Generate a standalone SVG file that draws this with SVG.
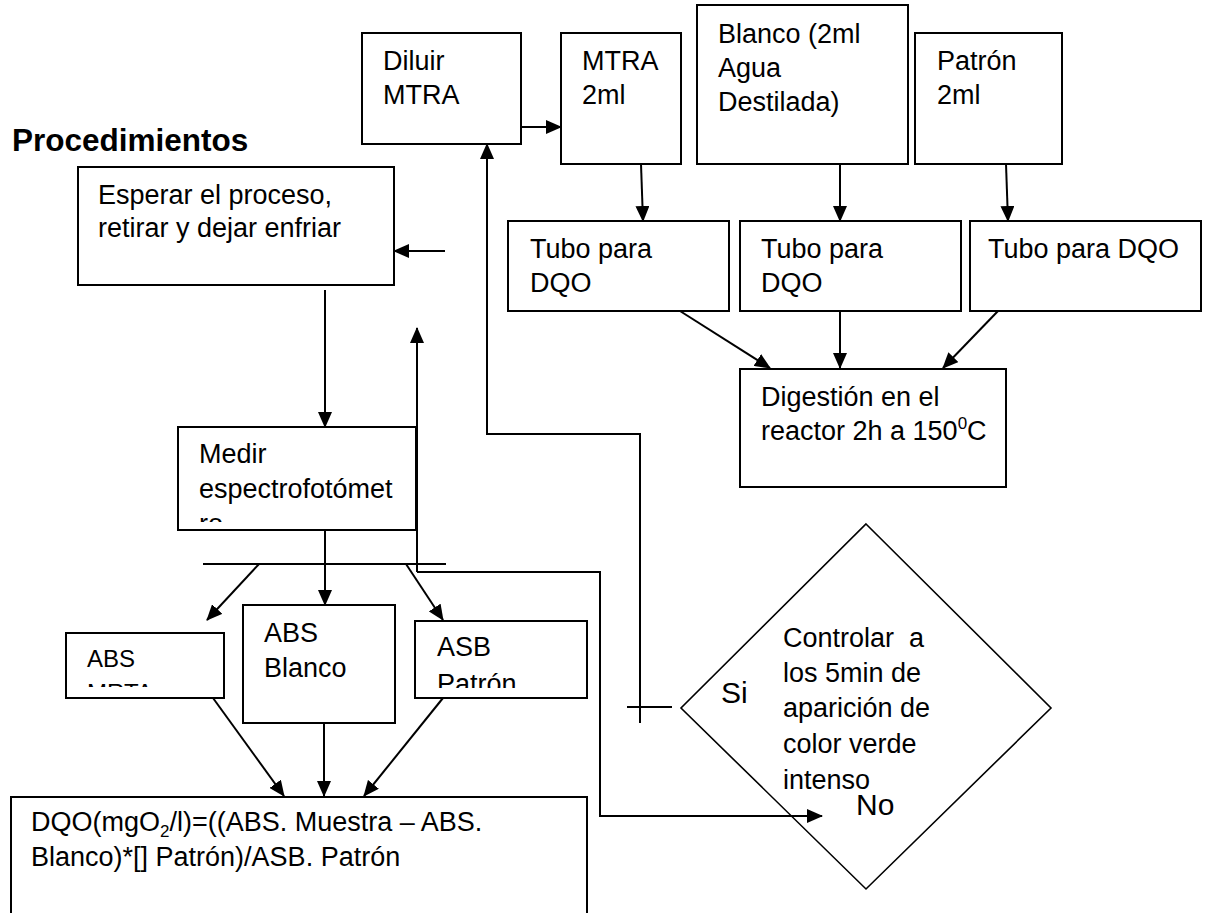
<svg xmlns="http://www.w3.org/2000/svg" width="1214" height="913" viewBox="0 0 1214 913">
<style>
.b{fill:#fff;stroke:#000;stroke-width:2}
.d{fill:none;stroke:#000;stroke-width:1.6}
.t{font-family:"Liberation Sans",Arial,sans-serif;font-size:27px;fill:#000;white-space:pre}
.c{fill:none;stroke:#000;stroke-width:2}
</style>
<defs>
<marker id="ah" markerUnits="userSpaceOnUse" markerWidth="16" markerHeight="14" refX="15" refY="7" orient="auto">
<path d="M0,0 L16,7 L0,14 z" fill="#000"/>
</marker>
<clipPath id="clipMedir"><rect x="178" y="427" width="238" height="95"/></clipPath>
<clipPath id="clipMrta"><rect x="66" y="633" width="158" height="54"/></clipPath>
<clipPath id="clipAsb"><rect x="415" y="621" width="172" height="67"/></clipPath>
</defs>
<rect x="0" y="0" width="1214" height="913" fill="#fff"/>

<text class="t" x="12" y="151" style="font-size:31.5px;font-weight:bold">Procedimientos</text>

<g id="connectors">
<path class="c" d="M521,127 L561,127" marker-end="url(#ah)"/>
<path class="c" d="M641,164 L643,221" marker-end="url(#ah)"/>
<path class="c" d="M840,164 L840,221" marker-end="url(#ah)"/>
<path class="c" d="M1006,164 L1008,221" marker-end="url(#ah)"/>
<path class="c" d="M680,311 L770,368" marker-end="url(#ah)"/>
<path class="c" d="M840,311 L840,368" marker-end="url(#ah)"/>
<path class="c" d="M998,311 L943,368" marker-end="url(#ah)"/>
<path class="c" d="M640,723 L640,434 L487,434 L487,144" marker-end="url(#ah)"/>
<path class="c" d="M627,707 L672,707"/>
<path class="c" d="M445,251 L394,251" marker-end="url(#ah)"/>
<path class="c" d="M325,290 L325,427" marker-end="url(#ah)"/>
<path class="c" d="M417,572 L417,328" marker-end="url(#ah)"/>
<path class="c" d="M417,572 L600,572 L600,816 L822,816" marker-end="url(#ah)"/>
<path class="c" d="M203,564 L446,564"/>
<path class="c" d="M325,530 L325,605" marker-end="url(#ah)"/>
<path class="c" d="M259,564 L207,620" marker-end="url(#ah)"/>
<path class="c" d="M406,564 L443,620" marker-end="url(#ah)"/>
<path class="c" d="M213,698 L284,796" marker-end="url(#ah)"/>
<path class="c" d="M324,723 L324,796" marker-end="url(#ah)"/>
<path class="c" d="M443,698 L364,796" marker-end="url(#ah)"/>
</g>

<g id="diluir">
<rect class="b" x="362" y="33" width="159" height="111"/>
<text class="t" x="383" y="70">Diluir</text>
<text class="t" x="383" y="104">MTRA</text>
</g>
<g id="mtra2ml">
<rect class="b" x="561" y="33" width="120" height="131"/>
<text class="t" x="582" y="70">MTRA</text>
<text class="t" x="582" y="104">2ml</text>
</g>
<g id="blanco">
<rect class="b" x="697" y="5" width="211" height="159"/>
<text class="t" x="718" y="43">Blanco (2ml</text>
<text class="t" x="718" y="77">Agua</text>
<text class="t" x="718" y="111">Destilada)</text>
</g>
<g id="patron">
<rect class="b" x="915" y="33" width="147" height="131"/>
<text class="t" x="937" y="70">Patrón</text>
<text class="t" x="937" y="104">2ml</text>
</g>

<g id="tubo1">
<rect class="b" x="508" y="221" width="221" height="90"/>
<text class="t" x="530" y="258">Tubo para</text>
<text class="t" x="530" y="292">DQO</text>
</g>
<g id="tubo2">
<rect class="b" x="740" y="221" width="221" height="90"/>
<text class="t" x="761" y="258">Tubo para</text>
<text class="t" x="761" y="292">DQO</text>
</g>
<g id="tubo3">
<rect class="b" x="970" y="221" width="231" height="90"/>
<text class="t" x="988" y="258">Tubo para DQO</text>
</g>

<g id="digestion">
<rect class="b" x="740" y="369" width="266" height="118"/>
<text class="t" x="761" y="406">Digestión en el</text>
<text class="t" x="761" y="440">reactor 2h a 150<tspan style="font-size:17px" dy="-11">0</tspan><tspan dy="11">C</tspan></text>
</g>

<g id="esperar">
<rect class="b" x="78" y="167" width="316" height="118"/>
<text class="t" x="98" y="204">Esperar el proceso,</text>
<text class="t" x="98" y="237">retirar y dejar enfriar</text>
</g>

<g id="medir">
<rect class="b" x="178" y="427" width="238" height="103"/>
<g clip-path="url(#clipMedir)">
<text class="t" x="199" y="463">Medir</text>
<text class="t" x="199" y="498">espectrofotómet</text>
<text class="t" x="199" y="533">ro</text>
</g>
</g>

<g id="absMrta">
<rect class="b" x="66" y="633" width="158" height="65"/>
<g clip-path="url(#clipMrta)">
<text class="t" x="87" y="667" style="font-size:24px">ABS</text>
<text class="t" x="87" y="701" style="font-size:24px">MRTA</text>
</g>
</g>
<g id="absBlanco">
<rect class="b" x="243" y="605" width="152" height="118"/>
<text class="t" x="264" y="642">ABS</text>
<text class="t" x="264" y="677">Blanco</text>
</g>
<g id="asbPatron">
<rect class="b" x="415" y="621" width="172" height="77"/>
<g clip-path="url(#clipAsb)">
<text class="t" x="437" y="656">ASB</text>
<text class="t" x="437" y="693">Patrón</text>
</g>
</g>

<g id="formula">
<rect class="b" x="11" y="797" width="576" height="130"/>
<text class="t" x="31" y="831">DQO(mgO<tspan style="font-size:17px" dy="6">2</tspan><tspan dy="-6">/l)=((ABS. Muestra – ABS.</tspan></text>
<text class="t" x="31" y="866">Blanco)*[] Patrón)/ASB. Patrón</text>
</g>

<g id="decision">
<polygon class="d" points="866,524 1051,708 866,889 681,708"/>
<text class="t" x="783" y="647">Controlar  a</text>
<text class="t" x="783" y="682">los 5min de</text>
<text class="t" x="783" y="717">aparición de</text>
<text class="t" x="783" y="753">color verde</text>
<text class="t" x="783" y="789">intenso</text>
<text class="t" x="721" y="703" style="font-size:30px">Si</text>
<text class="t" x="856" y="815" style="font-size:30px">No</text>
</g>
</svg>
